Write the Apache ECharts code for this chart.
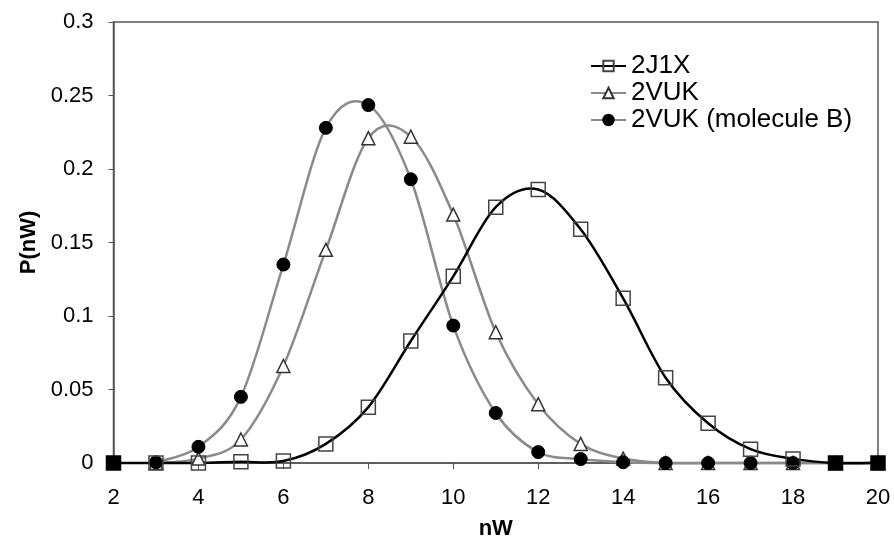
<!DOCTYPE html>
<html>
<head>
<meta charset="utf-8">
<script src="https://cdn.jsdelivr.net/npm/echarts@6/dist/echarts.min.js"></script>
<style>html,body{margin:0;padding:0;background:#fff;}#c{width:894px;height:545px;}</style>
</head>
<body>
<div id="c"></div>
<script>
const nW = [2, 3, 4, 5, 6, 7, 8, 9, 10, 11, 12, 13, 14, 15, 16, 17, 18, 19, 20];
const p2J1X = [0, 0, 0, 0.0008, 0.0013, 0.013, 0.038, 0.083, 0.127, 0.174, 0.186, 0.159, 0.112, 0.058, 0.027, 0.0094, 0.0028, 0, 0];
const p2VUK = [null, 0, 0.003, 0.016, 0.066, 0.145, 0.221, 0.222, 0.169, 0.089, 0.040, 0.013, 0.003, 0, 0, 0, 0, 0, 0];
const p2VUKB = [null, 0.0005, 0.011, 0.045, 0.135, 0.228, 0.2435, 0.193, 0.0935, 0.034, 0.0074, 0.0027, 0.0005, 0, 0, 0, 0, 0, 0];
const seriesNames = ['2J1X', '2VUK', '2VUK (molecule B)'];
const xTicks = [2, 4, 6, 8, 10, 12, 14, 16, 18, 20];
const yTicks = [0, 0.05, 0.1, 0.15, 0.2, 0.25, 0.3];
const filledX = [2, 19, 20];

function pairs(vals) {
  const out = [];
  vals.forEach((v, i) => { if (v !== null) out.push([nW[i], v]); });
  return out;
}

const FONT = '"Liberation Sans", Arial, sans-serif';
const GRAY = '#8a8a8a';

// smooth curve (Catmull-Rom Bezier, like Excel's smoothed line) drawn through the axes' scales
function curveSeries(id, vals, color) {
  const pts = pairs(vals);
  return {
    id: id, name: id, type: 'custom', z: 1, silent: true,
    data: pts, encode: { x: 0, y: 1 },
    renderItem: function (params, api) {
      if (params.dataIndex !== 0) return null;
      const P = pts.map(p => api.coord(p));
      const n = P.length;
      let d = 'M' + P[0][0] + ' ' + P[0][1];
      for (let i = 0; i < n - 1; i++) {
        const p0 = P[Math.max(i - 1, 0)], p1 = P[i], p2 = P[i + 1], p3 = P[Math.min(i + 2, n - 1)];
        const c1x = p1[0] + (p2[0] - p0[0]) / 6, c1y = p1[1] + (p2[1] - p0[1]) / 6;
        const c2x = p2[0] - (p3[0] - p1[0]) / 6, c2y = p2[1] - (p3[1] - p1[1]) / 6;
        d += ' C' + c1x + ' ' + c1y + ' ' + c2x + ' ' + c2y + ' ' + p2[0] + ' ' + p2[1];
      }
      return { type: 'path', shape: { pathData: d }, style: { fill: null, stroke: color, lineWidth: 2.5 } };
    }
  };
}

const chart = echarts.init(document.getElementById('c'), null, { renderer: 'canvas' });
chart.setOption({
  animation: false,
  backgroundColor: '#fff',
  textStyle: { fontFamily: FONT, color: '#000' },
  grid: { left: 113.5, right: 16, top: 22, bottom: 76.5, show: true, borderColor: '#555', borderWidth: 1.5, backgroundColor: 'transparent' },
  legend: {
    orient: 'vertical', left: 585, top: 48, itemGap: 1, itemWidth: 35, itemHeight: 13,
    textStyle: { fontSize: 26, fontFamily: FONT, color: '#000' },
    data: [
      { name: seriesNames[0], lineStyle: { color: '#000', width: 2, opacity: 1 } },
      { name: seriesNames[1], lineStyle: { color: GRAY, width: 2, opacity: 1 } },
      { name: seriesNames[2], lineStyle: { color: GRAY, width: 2, opacity: 1 } }
    ]
  },
  xAxis: {
    type: 'value', min: xTicks[0], max: xTicks[xTicks.length - 1], interval: 2,
    name: 'nW', nameLocation: 'middle', nameGap: 55,
    nameTextStyle: { fontSize: 22, fontWeight: 'bold', fontFamily: FONT, color: '#000' },
    axisLine: { show: true, lineStyle: { color: '#555', width: 1.5 } },
    axisTick: { show: true, inside: false, length: 6, lineStyle: { color: '#555' } },
    axisLabel: { fontSize: 22, margin: 24, color: '#000', fontFamily: FONT },
    splitLine: { show: false }
  },
  yAxis: {
    type: 'value', min: yTicks[0], max: yTicks[yTicks.length - 1], interval: 0.05,
    name: 'P(nW)', nameLocation: 'middle', nameGap: 72, nameRotate: 90,
    nameTextStyle: { fontSize: 22, fontWeight: 'bold', fontFamily: FONT, color: '#000' },
    axisLine: { show: true, lineStyle: { color: '#555', width: 1.5 } },
    axisTick: { show: true, inside: false, length: 5, lineStyle: { color: '#555' } },
    axisLabel: { fontSize: 22, margin: 20, color: '#000', fontFamily: FONT,
      formatter: v => String(parseFloat(v.toFixed(2))) },
    splitLine: { show: false }
  },
  series: [
    curveSeries('c2VUKB', p2VUKB, GRAY),
    curveSeries('c2VUK', p2VUK, GRAY),
    curveSeries('c2J1X', p2J1X, '#000'),
    {
      name: seriesNames[2], type: 'line', z: 3,
      data: pairs(p2VUKB),
      symbol: 'circle', symbolSize: 13,
      lineStyle: { color: GRAY, width: 2, opacity: 0 },
      itemStyle: { color: '#000', borderColor: '#000', borderWidth: 1 }
    },
    {
      name: seriesNames[1], type: 'line', z: 2,
      data: pairs(p2VUK),
      symbol: 'triangle', symbolSize: 13,
      lineStyle: { color: GRAY, width: 2, opacity: 0 },
      itemStyle: { color: '#fff', borderColor: '#333', borderWidth: 1.5 }
    },
    {
      name: seriesNames[0], type: 'line', z: 4,
      data: pairs(p2J1X).map(p => filledX.includes(p[0])
        ? { value: p, itemStyle: { color: '#000', borderColor: '#000' } } : { value: p }),
      symbol: 'rect', symbolSize: 14,
      lineStyle: { color: '#000', width: 2, opacity: 0 },
      itemStyle: { color: 'rgba(255,255,255,0)', borderColor: '#444', borderWidth: 1.5 }
    }
  ]
});
</script>
</body>
</html>
